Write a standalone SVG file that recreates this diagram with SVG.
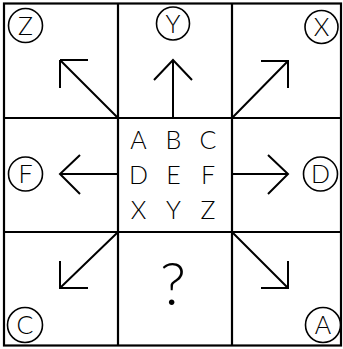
<svg xmlns="http://www.w3.org/2000/svg" width="343" height="349" viewBox="0 0 343 349">
<style>
.g{fill:none;stroke:#000;stroke-width:2.2}
.a{fill:none;stroke:#000;stroke-width:2}
.c{fill:#fff;stroke:#000;stroke-width:1.6}
.t{font-family:Lato,"Open Sans","DejaVu Sans",sans-serif;font-weight:300;font-size:25px;fill:#000;text-anchor:middle}
.q{font-family:Lato,"Open Sans","DejaVu Sans",sans-serif;font-weight:300;font-size:60px;fill:#000;text-anchor:middle}
</style>
<rect width="343" height="349" fill="#fff"/>
<g id="grid">
<rect class="g" x="4" y="3.5" width="337" height="342"/>
<line class="g" x1="118" y1="3.5" x2="118" y2="345.5"/>
<line class="g" x1="232" y1="3.5" x2="232" y2="345.5"/>
<line class="g" x1="4" y1="118" x2="341" y2="118"/>
<line class="g" x1="4" y1="232" x2="341" y2="232"/>
</g>
<g id="connectors">
<path class="a" d="M117,117 L60,60 M60,60 H88 M60,60 V88"/>
<path class="a" d="M173,117 V60 M154,80 L173,60 L192,80"/>
<path class="a" d="M233,117 L288,61 M261,61 H288 V88"/>
<path class="a" d="M117,174 H60 M80,155 L60,174 L80,194"/>
<path class="a" d="M233,174 H288 M268,155 L288,174 L268,194"/>
<path class="a" d="M117,233 L60,288 M60,261 V288 H88"/>
<path class="a" d="M233,233 L288,288 M261,288 H288 V261"/>
</g>
<g id="node-Z"><circle class="c" cx="25.5" cy="25.5" r="17"/><text class="t" x="25.5" y="34.5">Z</text></g>
<g id="node-Y"><circle class="c" cx="173" cy="23.5" r="16.5"/><text class="t" x="173" y="32.5">Y</text></g>
<g id="node-X"><circle class="c" cx="321.5" cy="27" r="16.5"/><text class="t" x="321.5" y="36">X</text></g>
<g id="node-F"><circle class="c" cx="25.5" cy="174" r="17"/><text class="t" x="25.5" y="183">F</text></g>
<g id="node-D"><circle class="c" cx="320.5" cy="174" r="17"/><text class="t" x="320.5" y="183">D</text></g>
<g id="node-C"><circle class="c" cx="25" cy="325" r="17.5"/><text class="t" x="25" y="334">C</text></g>
<g id="node-A"><circle class="c" cx="323" cy="325" r="17.5"/><text class="t" x="323" y="334">A</text></g>
<g id="node-center">
<text class="t" x="138.5" y="148.5">A</text><text class="t" x="173.5" y="148.5">B</text><text class="t" x="208" y="148.5">C</text>
<text class="t" x="138.5" y="183.5">D</text><text class="t" x="173.5" y="183.5">E</text><text class="t" x="208" y="183.5">F</text>
<text class="t" x="138.5" y="218.5">X</text><text class="t" x="173.5" y="218.5">Y</text><text class="t" x="208" y="218.5">Z</text>
</g>
<g id="node-question"><text class="q" x="173" y="305">?</text></g>
</svg>
